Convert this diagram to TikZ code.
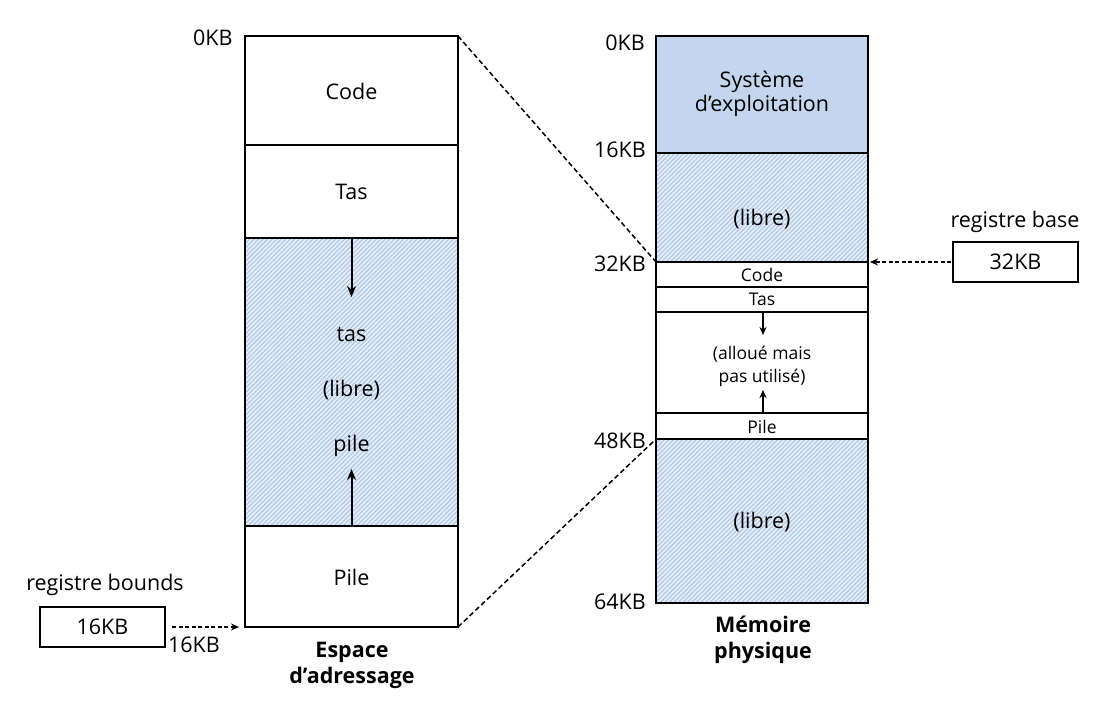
\documentclass[tikz,border=0pt]{standalone}
\usepackage{fontspec}
\setmainfont{Open Sans}
\usetikzlibrary{arrows.meta,patterns.meta}
\definecolor{osblue}{HTML}{C3D6EE}
\definecolor{hatchline}{HTML}{A6C1E2}
\definecolor{hatchbg}{HTML}{E4ECF7}
\tikzset{
  segbox/.style={draw=black, line width=2pt},
  freebox/.style={segbox, preaction={fill=hatchbg}, preaction={pattern={Lines[angle=45,distance=3.2pt,line width=0.9pt]}, pattern color=hatchline}},
  bigtext/.style={font=\fontsize{21.5}{26}\selectfont},
  smalltext/.style={font=\fontsize{17.5}{23}\selectfont},
  titletext/.style={font=\fontsize{21.5}{26}\selectfont\bfseries, align=center},
  growarrow/.style={-{Stealth[length=11pt,width=9pt]}, line width=2pt},
  growsmallarrow/.style={-{Stealth[length=8pt,width=7pt]}, line width=1.6pt},
  regarrow/.style={-{Stealth[length=8pt,width=7pt]}, dash pattern=on 4pt off 2.5pt, line width=1.5pt},
  mapline/.style={dash pattern=on 5pt off 3pt, line width=1.5pt},
}
\begin{document}
\begin{tikzpicture}[x=1pt,y=-1pt]
\useasboundingbox (0,0) rectangle (1116,706);
% ---- address space ----
\draw[segbox] (245,36) rectangle (458,145);
\draw[segbox] (245,145) rectangle (458,238);
\draw[freebox] (245,238) rectangle (458,526);
\draw[segbox] (245,526) rectangle (458,627);
\node[bigtext] (lcode) at (351.5,91) {Code};
\node[bigtext] (ltas) at (351.5,192) {Tas};
\node[bigtext] (lpile) at (351.5,577) {Pile};
\node[bigtext] (ltas2) at (351.5,335) {tas};
\node[bigtext] (llibre) at (351.5,390) {(libre)};
\node[bigtext] (lpile2) at (351.5,446) {pile};
\coordinate (la1) at (351.5,238);
\coordinate (la2) at (351.5,297);
\coordinate (lb1) at (351.5,526);
\coordinate (lb2) at (351.5,469);
\draw[growarrow] (la1) -- (la2);
\draw[growarrow] (lb1) -- (lb2);
\node[bigtext, anchor=east] (l0) at (236,38) {0KB};
\node[bigtext] (l16) at (194,645) {16KB};
\node[titletext] (ltitle) at (352,665) {Espace\\d’adressage};
% bounds register
\node[bigtext] (regbt) at (105,585) {registre bounds};
\draw[segbox, line width=1.8pt] (40,607) rectangle (165,647);
\node[bigtext] (regb) at (102.5,627) {16KB};
\coordinate (rb1) at (172,627);
\coordinate (rb2) at (239,627);
\draw[regarrow] (rb1) -- (rb2);
% ---- physical memory ----
\draw[segbox, fill=osblue] (656,36) rectangle (868,153);
\draw[freebox] (656,153) rectangle (868,262);
\draw[segbox] (656,262) rectangle (868,287);
\draw[segbox] (656,287) rectangle (868,312);
\draw[segbox] (656,312) rectangle (868,413);
\draw[segbox] (656,413) rectangle (868,439);
\draw[freebox] (656,439) rectangle (868,603);
\node[bigtext, align=center] (os) at (762,94) {Système\\[-2pt]d’exploitation};
\node[bigtext] (rl1) at (762,219) {(libre)};
\node[smalltext] (rcode) at (762,275) {Code};
\node[smalltext] (rtas) at (762,299.5) {Tas};
\node[smalltext, align=center] (ralloc) at (762,366) {(alloué mais\\pas utilisé)};
\node[smalltext] (rpile) at (762,426.5) {Pile};
\node[bigtext] (rl2) at (762,522) {(libre)};
\coordinate (ra1) at (763,312);
\coordinate (ra2) at (763,335);
\coordinate (rb3) at (763,413);
\coordinate (rb4) at (763,390);
\draw[growsmallarrow] (ra1) -- (ra2);
\draw[growsmallarrow] (rb3) -- (rb4);
\node[bigtext] (r0) at (625,43) {0KB};
\node[bigtext] (r16) at (620,150) {16KB};
\node[bigtext] (r32) at (620,264) {32KB};
\node[bigtext] (r48) at (620,441) {48KB};
\node[bigtext] (r64) at (620,602) {64KB};
\node[titletext] (rtitle) at (763,640) {Mémoire\\physique};
% base register
\node[bigtext] (regat) at (1015,222) {registre base};
\draw[segbox, line width=1.8pt] (953,242) rectangle (1078,282);
\node[bigtext] (rega) at (1015.5,262) {32KB};
\coordinate (ba1) at (951,262);
\coordinate (ba2) at (870,262);
\draw[regarrow] (ba1) -- (ba2);
% mapping lines
\coordinate (m1) at (458,36);
\coordinate (m2) at (656,262);
\coordinate (m3) at (458,627);
\coordinate (m4) at (656,439);
\draw[mapline] (m1) -- (m2);
\draw[mapline] (m3) -- (m4);
\end{tikzpicture}
\end{document}
